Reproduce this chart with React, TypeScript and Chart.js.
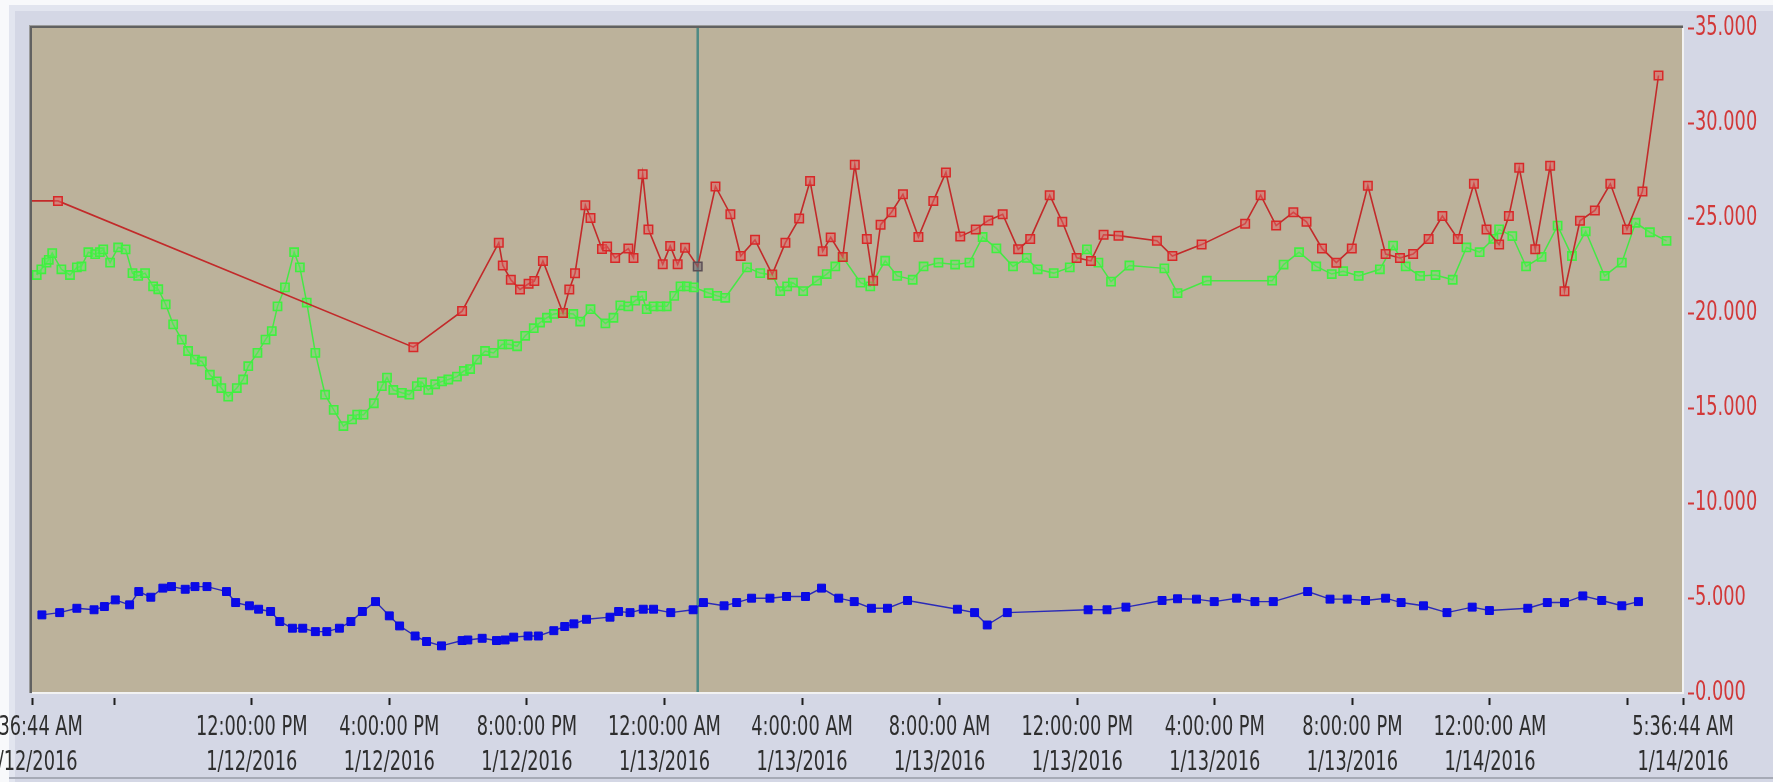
import React, { useEffect, useRef } from 'react';
import { Chart, registerables } from 'chart.js';

Chart.register(...registerables);

// ---------- data ----------
const RED_TIMES = [
  '1/12 05:20', '1/12 06:22', '1/12 16:42', '1/12 18:07', '1/12 19:11', '1/12 19:18', '1/12 19:32',
  '1/12 19:48', '1/12 20:03', '1/12 20:13', '1/12 20:28', '1/12 21:03', '1/12 21:14', '1/12 21:24',
  '1/12 21:42', '1/12 21:51', '1/12 22:11', '1/12 22:20', '1/12 22:34', '1/12 22:57', '1/12 23:06',
  '1/12 23:22', '1/12 23:32', '1/12 23:57', '1/13 00:10', '1/13 00:23', '1/13 00:36', '1/13 00:58',
  '1/13 01:29', '1/13 01:55', '1/13 02:13', '1/13 02:38', '1/13 03:08', '1/13 03:31', '1/13 03:55',
  '1/13 04:14', '1/13 04:36', '1/13 04:50', '1/13 05:11', '1/13 05:32', '1/13 05:53', '1/13 06:04',
  '1/13 06:17', '1/13 06:36', '1/13 06:56', '1/13 07:23', '1/13 07:49', '1/13 08:11', '1/13 08:36',
  '1/13 09:03', '1/13 09:25', '1/13 09:50', '1/13 10:17', '1/13 10:38', '1/13 11:12', '1/13 11:34',
  '1/13 11:59', '1/13 12:24', '1/13 12:46', '1/13 13:12', '1/13 14:19', '1/13 14:46', '1/13 15:37',
  '1/13 16:53', '1/13 17:20', '1/13 17:47', '1/13 18:17', '1/13 18:40', '1/13 19:07', '1/13 19:32',
  '1/13 19:59', '1/13 20:27', '1/13 20:58', '1/13 21:23', '1/13 21:46', '1/13 22:13', '1/13 22:37',
  '1/13 23:04', '1/13 23:32', '1/13 23:54', '1/14 00:16', '1/14 00:33', '1/14 00:51', '1/14 01:19',
  '1/14 01:45', '1/14 02:10', '1/14 02:37', '1/14 03:03', '1/14 03:30', '1/14 03:59', '1/14 04:26',
  '1/14 04:54',
];
const RED_VALUES = [
  25.9, 25.9, 18.2, 20.1, 23.7, 22.5, 21.75,
  21.24, 21.54, 21.68, 22.74, 20.0, 21.24, 22.09,
  25.67, 25.0, 23.37, 23.5, 22.9, 23.39, 22.9,
  27.3, 24.4, 22.56, 23.53, 22.56, 23.44, 22.45,
  26.66, 25.2, 23.0, 23.85, 22.03, 23.7, 24.97,
  26.95, 23.25, 23.98, 22.95, 27.8, 23.9, 21.7,
  24.65, 25.3, 26.25, 24.0, 25.9, 27.4, 24.03,
  24.4, 24.87, 25.2, 23.35, 23.9, 26.2, 24.8,
  22.9, 22.74, 24.12, 24.07, 23.8, 23.0, 23.6,
  24.7, 26.2, 24.6, 25.3, 24.8, 23.4, 22.65,
  23.4, 26.7, 23.1, 22.9, 23.1, 23.9, 25.1,
  23.9, 26.8, 24.4, 23.6, 25.1, 27.65, 23.35,
  27.75, 21.15, 24.85, 25.4, 26.8, 24.4, 26.4,
  32.5,
];

const GREEN_TIMES = [
  '1/12 05:45', '1/12 05:53', '1/12 06:02', '1/12 06:06', '1/12 06:12', '1/12 06:28', '1/12 06:43',
  '1/12 06:55', '1/12 07:03', '1/12 07:15', '1/12 07:27', '1/12 07:35', '1/12 07:41', '1/12 07:53',
  '1/12 08:07', '1/12 08:20', '1/12 08:32', '1/12 08:42', '1/12 08:54', '1/12 09:08', '1/12 09:17',
  '1/12 09:30', '1/12 09:43', '1/12 09:58', '1/12 10:09', '1/12 10:21', '1/12 10:33', '1/12 10:47',
  '1/12 10:59', '1/12 11:07', '1/12 11:19', '1/12 11:34', '1/12 11:45', '1/12 11:54', '1/12 12:10',
  '1/12 12:24', '1/12 12:35', '1/12 12:45', '1/12 12:58', '1/12 13:14', '1/12 13:24', '1/12 13:36',
  '1/12 13:51', '1/12 14:08', '1/12 14:23', '1/12 14:40', '1/12 14:55', '1/12 15:04', '1/12 15:15',
  '1/12 15:33', '1/12 15:47', '1/12 15:56', '1/12 16:07', '1/12 16:22', '1/12 16:35', '1/12 16:48',
  '1/12 16:57', '1/12 17:08', '1/12 17:20', '1/12 17:32', '1/12 17:43', '1/12 17:58', '1/12 18:10',
  '1/12 18:21', '1/12 18:33', '1/12 18:47', '1/12 19:02', '1/12 19:17', '1/12 19:28', '1/12 19:43',
  '1/12 19:57', '1/12 20:12', '1/12 20:23', '1/12 20:35', '1/12 20:47', '1/12 21:03', '1/12 21:21',
  '1/12 21:33', '1/12 21:51', '1/12 22:17', '1/12 22:31', '1/12 22:43', '1/12 22:57', '1/12 23:09',
  '1/12 23:21', '1/12 23:29', '1/12 23:41', '1/12 23:53', '1/13 00:04', '1/13 00:17', '1/13 00:28',
  '1/13 00:39', '1/13 00:51', '1/13 01:17', '1/13 01:32', '1/13 01:46', '1/13 02:24', '1/13 02:47',
  '1/13 03:08', '1/13 03:22', '1/13 03:34', '1/13 03:44', '1/13 04:02', '1/13 04:26', '1/13 04:43',
  '1/13 04:58', '1/13 05:11', '1/13 05:42', '1/13 05:59', '1/13 06:25', '1/13 06:46', '1/13 07:13',
  '1/13 07:32', '1/13 07:58', '1/13 08:27', '1/13 08:52', '1/13 09:15', '1/13 09:39', '1/13 10:08',
  '1/13 10:32', '1/13 10:51', '1/13 11:19', '1/13 11:47', '1/13 12:17', '1/13 12:37', '1/13 12:59',
  '1/13 13:31', '1/13 14:32', '1/13 14:55', '1/13 15:46', '1/13 17:40', '1/13 18:00', '1/13 18:27',
  '1/13 18:57', '1/13 19:24', '1/13 19:44', '1/13 20:11', '1/13 20:48', '1/13 21:11', '1/13 21:33',
  '1/13 21:58', '1/13 22:25', '1/13 22:55', '1/13 23:19', '1/13 23:42', '1/14 00:06', '1/14 00:16',
  '1/14 00:39', '1/14 01:03', '1/14 01:30', '1/14 01:58', '1/14 02:23', '1/14 02:47', '1/14 03:20',
  '1/14 03:50', '1/14 04:14', '1/14 04:39', '1/14 05:08',
];
const GREEN_VALUES = [
  22.0, 22.3, 22.65, 22.8, 23.15, 22.3, 22.0,
  22.4, 22.45, 23.2, 23.1, 23.2, 23.35, 22.65,
  23.45, 23.35, 22.1, 21.95, 22.1, 21.4, 21.25,
  20.45, 19.4, 18.6, 18.0, 17.55, 17.45, 16.75,
  16.4, 16.05, 15.6, 16.05, 16.5, 17.2, 17.9,
  18.6, 19.05, 20.35, 21.35, 23.2, 22.4, 20.55,
  17.9, 15.7, 14.9, 14.05, 14.4, 14.65, 14.65,
  15.25, 16.15, 16.6, 15.95, 15.8, 15.7, 16.15,
  16.35, 15.95, 16.25, 16.4, 16.5, 16.65, 16.95,
  17.05, 17.55, 18.0, 17.9, 18.35, 18.35, 18.25,
  18.8, 19.2, 19.5, 19.75, 19.95, 20.0, 19.95,
  19.55, 20.2, 19.45, 19.75, 20.4, 20.35, 20.65,
  20.9, 20.2, 20.35, 20.35, 20.35, 20.9, 21.4,
  21.4, 21.35, 21.05, 20.9, 20.8, 22.4, 22.1,
  22.0, 21.15, 21.4, 21.6, 21.15, 21.7, 22.05,
  22.45, 22.95, 21.6, 21.4, 22.75, 21.95, 21.75,
  22.45, 22.65, 22.55, 22.65, 24.0, 23.4, 22.45,
  22.9, 22.3, 22.1, 22.4, 23.35, 22.65, 21.65,
  22.5, 22.35, 21.05, 21.7, 21.7, 22.55, 23.2,
  22.45, 22.05, 22.2, 21.95, 22.3, 23.55, 22.45,
  21.95, 22.0, 21.75, 23.45, 23.2, 23.9, 24.4,
  24.05, 22.45, 22.95, 24.6, 23.0, 24.3, 21.95,
  22.65, 24.75, 24.25, 23.8,
];

const BLUE_TIMES = [
  '1/12 05:54', '1/12 06:25', '1/12 06:55', '1/12 07:25', '1/12 07:43', '1/12 08:02', '1/12 08:27',
  '1/12 08:43', '1/12 09:04', '1/12 09:25', '1/12 09:40', '1/12 10:04', '1/12 10:21', '1/12 10:42',
  '1/12 11:16', '1/12 11:32', '1/12 11:56', '1/12 12:12', '1/12 12:33', '1/12 12:49', '1/12 13:11',
  '1/12 13:29', '1/12 13:51', '1/12 14:11', '1/12 14:33', '1/12 14:53', '1/12 15:13', '1/12 15:36',
  '1/12 16:00', '1/12 16:18', '1/12 16:45', '1/12 17:05', '1/12 17:31', '1/12 18:07', '1/12 18:17',
  '1/12 18:42', '1/12 19:07', '1/12 19:22', '1/12 19:37', '1/12 20:02', '1/12 20:20', '1/12 20:47',
  '1/12 21:06', '1/12 21:22', '1/12 21:44', '1/12 22:25', '1/12 22:40', '1/12 23:00', '1/12 23:23',
  '1/12 23:41', '1/13 00:11', '1/13 00:50', '1/13 01:08', '1/13 01:44', '1/13 02:06', '1/13 02:32',
  '1/13 03:04', '1/13 03:33', '1/13 04:06', '1/13 04:34', '1/13 05:04', '1/13 05:31', '1/13 06:01',
  '1/13 06:29', '1/13 07:04', '1/13 08:31', '1/13 09:01', '1/13 09:23', '1/13 09:58', '1/13 12:19',
  '1/13 12:52', '1/13 13:25', '1/13 14:28', '1/13 14:55', '1/13 15:28', '1/13 15:59', '1/13 16:38',
  '1/13 17:10', '1/13 17:42', '1/13 18:42', '1/13 19:21', '1/13 19:51', '1/13 20:23', '1/13 20:58',
  '1/13 21:25', '1/13 22:04', '1/13 22:45', '1/13 23:29', '1/13 23:59', '1/14 01:06', '1/14 01:40',
  '1/14 02:10', '1/14 02:42', '1/14 03:15', '1/14 03:50', '1/14 04:19',
];
const BLUE_VALUES = [
  4.11, 4.23, 4.46, 4.38, 4.55, 4.9, 4.64,
  5.34, 5.04, 5.52, 5.6, 5.46, 5.6, 5.6,
  5.34, 4.76, 4.59, 4.41, 4.29, 3.76, 3.41,
  3.41, 3.23, 3.23, 3.41, 3.76, 4.29, 4.81,
  4.06, 3.53, 3.0, 2.71, 2.48, 2.76, 2.79,
  2.88, 2.76, 2.79, 2.94, 3.0, 3.0, 3.28,
  3.5, 3.64, 3.88, 3.99, 4.29, 4.23, 4.41,
  4.41, 4.23, 4.38, 4.76, 4.59, 4.76, 4.99,
  4.99, 5.08, 5.08, 5.52, 4.99, 4.81, 4.46,
  4.46, 4.87, 4.41, 4.23, 3.58, 4.23, 4.38,
  4.38, 4.52, 4.87, 4.96, 4.94, 4.81, 4.99,
  4.81, 4.81, 5.34, 4.94, 4.94, 4.87, 4.99,
  4.76, 4.59, 4.23, 4.52, 4.34, 4.46, 4.76,
  4.76, 5.11, 4.87, 4.59, 4.81,
];

const X_START = '1/12 05:36:44';
const X_END = '1/14 05:36:44';
const X_TICK_TIMES = [
  '1/12 05:36:44', '1/12 08:00', '1/12 12:00', '1/12 16:00', '1/12 20:00', '1/13 00:00',
  '1/13 04:00', '1/13 08:00', '1/13 12:00', '1/13 16:00', '1/13 20:00', '1/14 00:00',
  '1/14 04:00', '1/14 05:36:44',
];
const X_UNLABELED_TICKS = ['1/12 08:00', '1/14 04:00'];
const Y_MIN = 0;
const Y_MAX = 35;
const Y_STEP = 5;
const CURSOR_TIME = '1/13 00:58';

// ---------- helpers ----------
function toHours(s: string): number {
  const [d, t] = s.split(' ');
  const day = parseInt(d.split('/')[1], 10);
  const p = t.split(':').map(Number);
  return (day - 12) * 24 + p[0] + (p[1] || 0) / 60 + (p[2] || 0) / 3600;
}

function pad2(n: number): string {
  return String(n).padStart(2, '0');
}

function formatTick(v: number): string[] {
  const total = Math.round(v * 3600);
  const dayOff = Math.floor(total / 86400);
  const rem = total - dayOff * 86400;
  const h24 = Math.floor(rem / 3600);
  const m = Math.floor((rem % 3600) / 60);
  const s = rem % 60;
  const ampm = h24 < 12 ? 'AM' : 'PM';
  const h12 = h24 % 12 === 0 ? 12 : h24 % 12;
  return [`${h12}:${pad2(m)}:${pad2(s)} ${ampm}`, `1/${12 + dayOff}/2016`];
}

function toPoints(times: string[], values: number[]) {
  return times.map((t, i) => ({ x: toHours(t), y: values[i] }));
}

const FONT_FAMILY = "'DejaVu Sans Condensed', 'DejaVu Sans', sans-serif";
const TEXT_SCALE_X = 0.76; // the reference's labels are drawn in a tall, narrow face

const framePlugin = {
  id: 'frame',
  beforeDraw(chart: any) {
    const { ctx, width, height, chartArea: a } = chart;
    ctx.save();
    ctx.fillStyle = '#d4d7e5';
    ctx.fillRect(0, 0, width, height);
    ctx.fillStyle = '#e2e5ef';
    ctx.fillRect(9, 5, width - 9, 6);
    ctx.fillRect(9, 5, 6, height - 5);
    ctx.fillStyle = '#f8f9fb';
    ctx.fillRect(0, 0, width, 5);
    ctx.fillRect(0, 0, 9, height);
    ctx.fillStyle = '#a6aab6';
    ctx.fillRect(9, height - 5, width - 9, 2);
    ctx.fillStyle = '#bcb29b';
    ctx.fillRect(a.left, a.top, a.right - a.left, a.bottom - a.top);
    ctx.restore();
    // narrow text rendering for the tick labels
    const orig = CanvasRenderingContext2D.prototype.fillText;
    ctx.fillText = function (text: string, x: number, y: number, maxWidth?: number) {
      this.save();
      this.translate(x, y);
      this.scale(TEXT_SCALE_X, 1);
      if (maxWidth === undefined) orig.call(this, text, 0, 0);
      else orig.call(this, text, 0, 0, maxWidth / TEXT_SCALE_X);
      this.restore();
    };
  },
  beforeDatasetsDraw(chart: any) {
    const { ctx, chartArea: a, scales } = chart;
    const x = scales.x.getPixelForValue(toHours(CURSOR_TIME));
    ctx.save();
    ctx.strokeStyle = '#4e8a84';
    ctx.lineWidth = 2.5;
    ctx.beginPath();
    ctx.moveTo(x, a.top);
    ctx.lineTo(x, a.bottom);
    ctx.stroke();
    ctx.restore();
  },
  afterDatasetsDraw(chart: any) {
    const { ctx, chartArea: a } = chart;
    ctx.save();
    ctx.fillStyle = '#f2f2f2';
    ctx.fillRect(a.left, a.bottom - 1, a.right - a.left + 1, 2);
    ctx.fillRect(a.right - 1, a.top, 2, a.bottom - a.top + 1);
    ctx.fillStyle = '#9a9a9a';
    ctx.fillRect(a.left - 3, a.top - 3, a.right - a.left + 3, 1);
    ctx.fillRect(a.left - 3, a.top - 3, 1, a.bottom - a.top + 3);
    ctx.fillStyle = '#616161';
    ctx.fillRect(a.left - 2, a.top - 2, a.right - a.left + 2, 2);
    ctx.fillRect(a.left - 2, a.top - 2, 2, a.bottom - a.top + 2);
    ctx.restore();
  },
  afterDraw(chart: any) {
    delete chart.ctx.fillText;
  },
};

export default function App() {
  const canvasRef = useRef<HTMLCanvasElement | null>(null);

  useEffect(() => {
    if (!canvasRef.current) return;
    const cursorH = toHours(CURSOR_TIME);
    const xTicks = X_TICK_TIMES.map(toHours);
    const unlabeled = X_UNLABELED_TICKS.map(toHours);

    const chart = new Chart(canvasRef.current, {
      type: 'line',
      data: {
        datasets: [
          {
            label: 'Red',
            data: toPoints(RED_TIMES, RED_VALUES),
            borderColor: '#c22a2a',
            borderWidth: 1.6,
            pointStyle: 'rect',
            pointRadius: 6,
            pointBorderWidth: 1.5,
            pointBorderColor: (c: any) =>
              Math.abs((c.raw?.x ?? 0) - cursorH) < 0.001 ? '#5b4e55' : '#d82828',
            pointBackgroundColor: (c: any) =>
              Math.abs((c.raw?.x ?? 0) - cursorH) < 0.001 ? 'rgba(120,110,115,0.6)' : 'rgba(226,96,96,0.55)',
            tension: 0,
          },
          {
            label: 'Green',
            data: toPoints(GREEN_TIMES, GREEN_VALUES),
            borderColor: '#45e845',
            borderWidth: 1.5,
            pointStyle: 'rect',
            pointRadius: 5.8,
            pointBorderWidth: 1.6,
            pointBorderColor: '#3ff03f',
            pointBackgroundColor: 'rgba(95,235,95,0.45)',
            tension: 0,
          },
          {
            label: 'Blue',
            data: toPoints(BLUE_TIMES, BLUE_VALUES),
            borderColor: '#2a2ab8',
            borderWidth: 1.4,
            pointStyle: 'rect',
            pointRadius: 5.6,
            pointBorderWidth: 1,
            pointBorderColor: '#0808e2',
            pointBackgroundColor: '#0a0ae8',
            tension: 0,
          },
        ],
      },
      options: {
        animation: false,
        responsive: true,
        maintainAspectRatio: false,
        events: [],
        layout: { padding: { left: 32, top: 28, right: 0, bottom: 0 } },
        plugins: {
          legend: { display: false },
          tooltip: { enabled: false },
          title: { display: false },
        },
        scales: {
          x: {
            type: 'linear',
            position: 'bottom',
            min: toHours(X_START),
            max: toHours(X_END),
            afterBuildTicks: (axis: any) => {
              axis.ticks = xTicks.map((v) => ({ value: v }));
            },
            afterFit: (axis: any) => {
              axis.height = 89;
              axis.paddingLeft = 0;
              axis.paddingRight = 0;
            },
            border: { display: false },
            grid: {
              display: true,
              drawOnChartArea: false,
              drawTicks: true,
              tickLength: 12,
              tickWidth: 2,
              tickColor: '#1e1e1e',
              tickBorderDash: [0, 5, 7, 100],
            },
            ticks: {
              autoSkip: false,
              maxRotation: 0,
              minRotation: 0,
              padding: 6,
              color: '#2e2e2e',
              font: { family: FONT_FAMILY, size: 26, lineHeight: 1.35 },
              callback: (v: any) => {
                const n = Number(v);
                if (unlabeled.some((u) => Math.abs(u - n) < 1e-6)) return '';
                return formatTick(n);
              },
            },
          },
          y: {
            type: 'linear',
            position: 'right',
            min: Y_MIN,
            max: Y_MAX,
            afterFit: (axis: any) => {
              axis.width = 90;
            },
            border: { display: false },
            grid: {
              display: true,
              drawOnChartArea: false,
              drawTicks: true,
              tickLength: 11,
              tickWidth: 2,
              tickColor: '#d23838',
              tickBorderDash: [0, 5, 6, 100],
            },
            ticks: {
              stepSize: Y_STEP,
              padding: 1,
              color: '#d23838',
              font: { family: FONT_FAMILY, size: 26 },
              callback: (v: any) => Number(v).toFixed(3),
            },
          },
        },
      },
      plugins: [framePlugin],
    });

    return () => {
      chart.destroy();
    };
  }, []);

  return (
    <div style={{ position: 'fixed', left: 0, top: 0, width: 1773, height: 782 }}>
      <canvas ref={canvasRef} />
    </div>
  );
}
